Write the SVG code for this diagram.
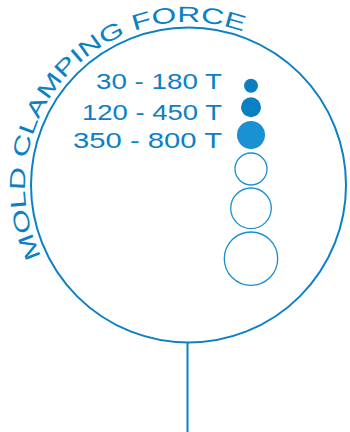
<svg xmlns="http://www.w3.org/2000/svg" width="350" height="432" viewBox="0 0 350 432">
  <defs>
    <style>
      .lbl { font-family: "Liberation Sans", Arial, sans-serif; font-size: 22px; fill: #0b80c5; }
      .main { fill: none; stroke: #0b80c5; stroke-width: 2; }
      .ring { fill: none; stroke: #1a8ed0; stroke-width: 1.3; }
    </style>
    <path id="arcText" d="M 41.5 256.5 A 163 163 0 0 1 246.4 32.8"/>
  </defs>
  <g id="main-circle">
    <circle class="main" cx="188.5" cy="185" r="157.5"/>
  </g>
  <g id="connectors">
    <line class="main" x1="187.5" y1="342.5" x2="187.5" y2="432"/>
  </g>
  <g id="title">
    <text class="lbl"><textPath href="#arcText" textLength="386" lengthAdjust="spacingAndGlyphs">MOLD CLAMPING FORCE</textPath></text>
  </g>
  <g id="row1">
    <text class="lbl" x="96" y="89" textLength="126" lengthAdjust="spacingAndGlyphs">30 - 180 T</text>
    <circle cx="251" cy="85.7" r="7" fill="#0b7fc4"/>
  </g>
  <g id="row2">
    <text class="lbl" x="82" y="119.5" textLength="140" lengthAdjust="spacingAndGlyphs">120 - 450 T</text>
    <circle cx="251" cy="107.3" r="10" fill="#0b7fc4"/>
  </g>
  <g id="row3">
    <text class="lbl" x="73" y="148" textLength="149" lengthAdjust="spacingAndGlyphs">350 - 800 T</text>
    <circle cx="251" cy="135" r="14" fill="#1a91d1"/>
  </g>
  <g id="ring1"><circle class="ring" cx="251" cy="169" r="16"/></g>
  <g id="ring2"><circle class="ring" cx="251" cy="208.3" r="20.3"/></g>
  <g id="ring3"><circle class="ring" cx="251" cy="258.7" r="26.7"/></g>
</svg>
